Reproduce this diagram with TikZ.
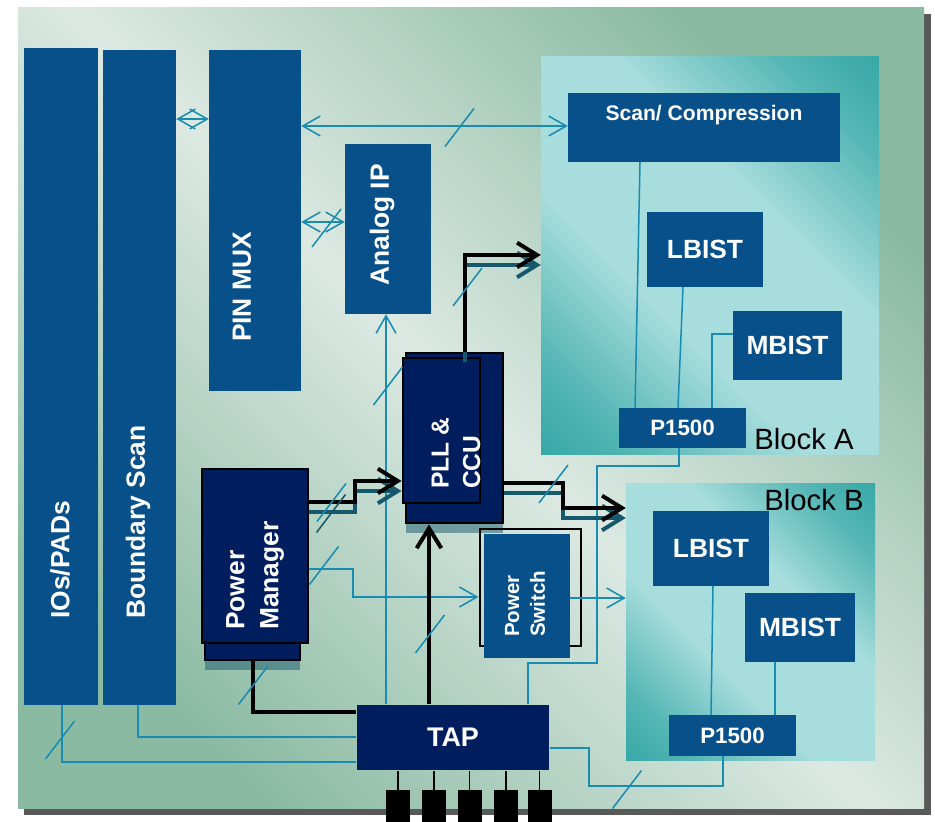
\documentclass[tikz,border=0pt]{standalone}
\usepackage{fontspec}
\setmainfont{Liberation Sans}
\usepackage{tikz}
\usetikzlibrary{arrows.meta, shadows}
\definecolor{boxblue}{RGB}{7,80,138}
\definecolor{hubnavy}{RGB}{0,30,94}
\definecolor{wireteal}{RGB}{24,140,178}
\definecolor{shadeteal}{RGB}{22,88,108}
\definecolor{bglight}{RGB}{220,233,226}
\definecolor{bggreen}{RGB}{138,186,162}
\definecolor{blklight}{RGB}{168,221,221}
\definecolor{blkteal}{RGB}{16,150,148}
\pgfdeclareverticalshading{coreglow}{100bp}{color(0bp)=(blkteal);
  color(12bp)=(blkteal!80!blklight); color(24bp)=(blkteal!55!blklight);
  color(40bp)=(blklight); color(60bp)=(blklight);
  color(76bp)=(blkteal!55!blklight); color(88bp)=(blkteal!80!blklight);
  color(100bp)=(blkteal)}

\begin{document}
\begin{tikzpicture}[x=0.03cm, y=-0.03cm,
    blk/.style={fill=boxblue, inner sep=0pt, text=white,
                font=\fontsize{22.5}{26}\selectfont\bfseries},
    hub/.style={blk, fill=hubnavy, draw=black, line width=2.5pt},
    hubshade/.style={drop shadow={shadow xshift=0pt, shadow yshift=-0.3cm,
                     opacity=0.5, fill=shadeteal}},
    lbl/.style={inner sep=0pt, text=white, align=left,
                font=\fontsize{22.5}{29}\selectfont\bfseries},
    vlbl/.style={lbl, rotate=90},
    chip/.style={minimum width=#1, shading=coreglow, shading angle=-45},
    wire/.style={draw=wireteal, line width=1.3pt},
    bar/.style={draw=black, line width=3.4pt},
    barshade/.style={draw=shadeteal, line width=3.4pt,
                     transform canvas={yshift=-0.3cm}},
    tip/.style={-{Straight Barb[length=15pt, width=17pt]}},
    tips/.style={{Straight Barb[length=15pt, width=17pt]}-{Straight Barb[length=15pt, width=17pt]}},
    bigtip/.style={-{Straight Barb[length=17pt, width=21pt]}},
    pinbox/.style={fill=black, minimum width=0.72cm, minimum height=0.96cm, inner sep=0pt}]

  \useasboundingbox (0,0) rectangle (935,822);
  % board
  \fill[black!65] (24,14) rectangle (931,815);
  \shade[top color=bggreen, bottom color=bggreen, middle color=bglight,
         shading angle=-45] (18,8) rectangle (924,808);

  % cores
  \node[chip=10.14cm, minimum height=11.91cm] (blka) at (710,255.5) {};
  \node[chip=7.47cm, minimum height=8.28cm] (blkb) at (750.5,622) {};
  \node[inner sep=0pt, font=\fontsize{25}{30}\selectfont] (blkalbl) at (804,439) {Block A};
  \node[inner sep=0pt, font=\fontsize{25}{30}\selectfont] (blkblbl) at (814,500) {Block B};

  % pad ring and muxing
  \node[blk, minimum width=2.22cm, minimum height=19.71cm] (io) at (61,376.5) {};
  \node[blk, minimum width=2.19cm, minimum height=19.65cm] (bscan) at (139.5,377.5) {};
  \node[blk, minimum width=2.76cm, minimum height=10.23cm] (pinmux) at (255,220.5) {};
  \node[blk, minimum width=2.58cm, minimum height=5.1cm] (analog) at (388,229) {};
  \node[vlbl, anchor=west] (iolbl) at (60,619) {IOs/PADs};
  \node[vlbl, anchor=west] (bscanlbl) at (138,619) {Boundary Scan};
  \node[vlbl] (pinmuxlbl) at (242,287) {PIN MUX};
  \node[vlbl] (analoglbl) at (382,225) {Analog IP};

  % test logic inside the cores
  \node[blk, minimum width=8.16cm, minimum height=2.07cm] (scan) at (704,127.5) {};
  \node[lbl, font=\fontsize{18}{22}\selectfont\bfseries] (scanlbl) at (704,115) {Scan/ Compression};
  \node[blk, minimum width=3.48cm, minimum height=2.25cm] (lbista) at (705,249.5) {LBIST};
  \node[blk, minimum width=3.27cm, minimum height=2.07cm] (mbista) at (787.5,345.5) {MBIST};
  \node[blk, minimum width=3.81cm, minimum height=1.2cm,
        font=\fontsize{19}{22}\selectfont\bfseries] (pfa) at (682.5,428) {P1500};
  \node[blk, minimum width=3.48cm, minimum height=2.25cm] (lbistb) at (711,548.5) {LBIST};
  \node[blk, minimum width=3.3cm, minimum height=2.07cm] (mbistb) at (800,627.5) {MBIST};
  \node[blk, minimum width=3.81cm, minimum height=1.23cm,
        font=\fontsize{19}{22}\selectfont\bfseries] (pfb) at (732.5,735.5) {P1500};

  % power, clocks, TAP
  \node[hub, hubshade, minimum width=2.85cm, minimum height=1.8cm] (pmbase) at (252.5,630) {};
  \node[hub, minimum width=3.18cm, minimum height=5.22cm] (pm) at (255,556) {};
  \node[vlbl, anchor=west] (pmlbl) at (255,630) {Power\\Manager};
  \node[hub, hubshade, minimum width=2.91cm, minimum height=5.1cm] (pllbase) at (454.5,438) {};
  \node[hub, minimum width=2.31cm, minimum height=4.35cm] (pll) at (441.5,430.5) {};
  \node[vlbl, anchor=west, font=\fontsize{21}{27}\selectfont\bfseries] (plllbl) at (456,489) {PLL \&\\CCU};
  \node[draw=black, line width=2.5pt, minimum width=3.03cm, minimum height=3.51cm] (pswframe) at (530.5,587.5) {};
  \node[blk, minimum width=2.58cm, minimum height=3.72cm] (psw) at (527,596) {};
  \node[vlbl, anchor=west, font=\fontsize{17.5}{22}\selectfont\bfseries] (pswlbl) at (525,637) {Power\\Switch};
  \node[hub, draw=none, minimum width=5.76cm, minimum height=1.95cm,
        font=\fontsize{23}{26}\selectfont\bfseries] (tap) at (453,737.5) {TAP};

  % thin buses
  \draw[wire, tips] (pinmux.east |- 0,126) -- (scan.west |- 0,126);
  \draw[wire, tips] (bscan.east |- 0,119) -- (pinmux.west |- 0,119);
  \draw[wire, tips] (pinmux.east |- 0,222) -- (analog.west |- 0,222);
  \draw[wire, tip] (tap.north -| 386,0) -- (analog.south -| 386,0);
  \draw[wire] (tap.west |- 0,762) -| (io.south -| 62,0);
  \draw[wire] (tap.west |- 0,737) -| (bscan.south -| 138,0);
  \draw[wire] (tap.east |- 0,748) -| (589,786) -| (pfb.south -| 723,0);
  \draw[wire] (tap.north -| 528,0) |- (597,663) |- (679,466) -- (pfa.south -| 679,0);
  \draw[wire, tip] (pm.east |- 0,569) -| (353,597) -- (pswframe.west |- 0,597);
  \draw[wire, tip] (psw.east |- 0,598) -- (blkb.west |- 0,598);
  \draw[wire] (scan.south -| 640,0) -- (pfa.north -| 635,0);
  \draw[wire] (lbista.south -| 683,0) -- (pfa.north -| 678,0);
  \draw[wire] (mbista.west |- 0,334) -| (pfa.north -| 712,0);
  \draw[wire] (lbistb.south -| 713,0) -- (pfb.north -| 711,0);
  \draw[wire] (mbistb.south -| 775,0) -- (pfb.north -| 775,0);

  % clock and power control
  \draw[barshade, bigtip] (pm.east |- 0,502) -| (355,481) -- (pll.west |- 0,481);
  \draw[barshade, bigtip] (pllbase.north -| 465,0) |- (blka.west |- 0,255);
  \draw[barshade, bigtip] (pllbase.east |- 0,483) -| (563,508) -- (blkb.west |- 0,508);
  \draw[bar, bigtip] (pm.east |- 0,502) -| (355,481) -- (pll.west |- 0,481);
  \draw[bar, bigtip] (pllbase.north -| 465,0) |- (blka.west |- 0,255);
  \draw[bar, bigtip] (pllbase.east |- 0,483) -| (563,508) -- (blkb.west |- 0,508);
  \draw[bar, bigtip] (tap.north -| 429,0) -- (pllbase.south -| 429,0);
  \draw[bar] (pmbase.south -| 253,0) |- (tap.west |- 0,712);

  % bus width marks
  \foreach \sx/\sy in {459.5/127.5, 326.5/228, 331.5/502.5, 553.5/484, 467.5/287,
                       324/565.5, 430/634, 253/685.5, 388/386, 60/740, 627/789.5}
    \draw[wire] (\sx,\sy) +(-14.5,19) -- +(14.5,-19);
  \draw[draw=shadeteal, line width=1.3pt] (331,513.5) +(-14.5,19) -- +(14.5,-19);

  % JTAG pins
  \foreach \px [count=\i] in {398,434,469.5,506,539.5} {
    \node[pinbox] (pin\i) at (\px,806) {};
    \draw[line width=1.2pt] (tap.south -| pin\i) -- (pin\i.north);
  }
\end{tikzpicture}
\end{document}
